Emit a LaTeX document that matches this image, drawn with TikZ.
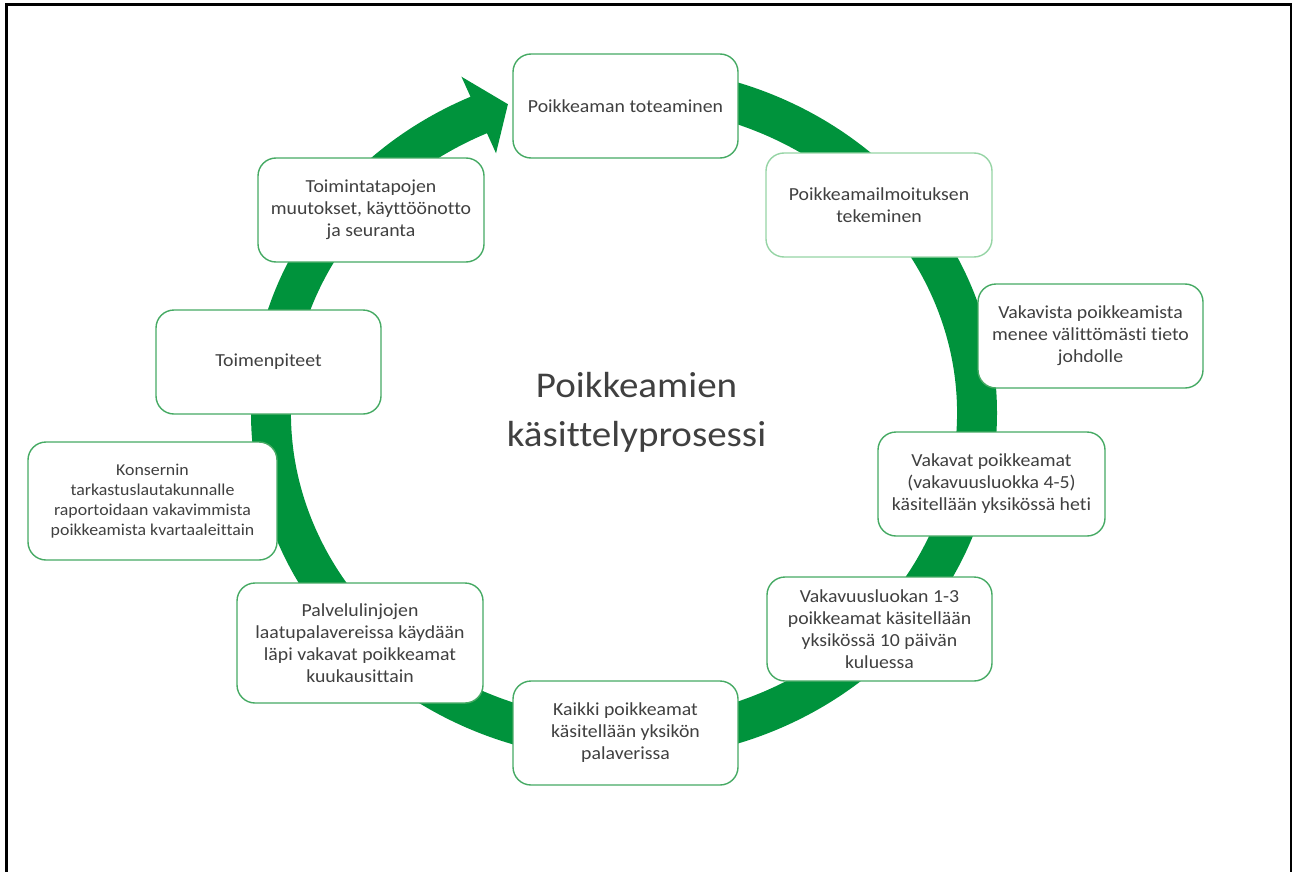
\documentclass[tikz,border=0pt]{standalone}
\usepackage{fontspec}
\setmainfont{Carlito}[FakeStretch=1.075, Ligatures=CommonOff]
\usetikzlibrary{calc}
\definecolor{ringgreen}{RGB}{0,147,60}
\definecolor{boxgreen}{RGB}{70,170,100}
\definecolor{palegreen}{RGB}{150,212,165}
\definecolor{txtgray}{RGB}{64,64,64}
\tikzset{
  phase/.style={draw=boxgreen, line width=1.4, fill=white, rounded corners=18,
    align=center, text=txtgray, inner sep=0, minimum width=225, minimum height=104,
    font=\fontsize{18.4}{22}\selectfont},
  smallphase/.style={phase, font=\fontsize{16.6}{20}\selectfont},
}
\begin{document}
\begin{tikzpicture}[x=1pt,y=-1pt]
      \useasboundingbox (0,0) rectangle (1292,872);
      \draw[line width=3] (6,880) -- (6,5) -- (1291,5) -- (1291,880);
      \coordinate (c) at (624,413);
      \fill[ringgreen] (c) ++(-90:373 and 347)
        arc[start angle=-90, end angle=245.7, x radius=373, y radius=347]
        -- ($(c)+(245.7:395 and 369)$)
        -- ($(c)+(250.8:353 and 327)$)
        -- ($(c)+(245.7:311 and 285)$)
        -- ($(c)+(245.7:333 and 307)$)
        arc[start angle=245.7, end angle=-90, x radius=333, y radius=307]
        -- cycle;
      \draw
        (625.5,106) node[phase] (0) {Poikkeaman toteaminen}
        (879,205) node[phase, draw=palegreen, minimum width=226] (1) {Poikkeamailmoituksen\\tekeminen}
        (1090.5,336) node[phase] (2) {Vakavista poikkeamista\\menee välittömästi tieto\\johdolle}
        (991.5,484) node[phase, minimum width=227] (3) {Vakavat poikkeamat\\(vakavuusluokka 4-5)\\käsitellään yksikössä heti}
        (879.5,629) node[phase] (4) {Vakavuusluokan 1-3\\poikkeamat käsitellään\\yksikössä 10 päivän\\kuluessa}
        (625.5,733) node[phase] (5) {Kaikki poikkeamat\\käsitellään yksikön\\palaverissa}
        (360,643) node[phase, minimum width=246, minimum height=120] (6) {Palvelulinjojen\\laatupalavereissa käydään\\läpi vakavat poikkeamat\\kuukausittain}
        (152.5,501) node[smallphase, minimum width=249, minimum height=118] (7) {Konsernin\\tarkastuslautakunnalle\\raportoidaan vakavimmista\\poikkeamista kvartaaleittain}
        (268.5,362) node[phase] (8) {Toimenpiteet}
        (371,210) node[phase, minimum width=226] (9) {Toimintatapojen\\muutokset, käyttöönotto\\ja seuranta};
      \node[text=txtgray, align=center, font=\fontsize{36.3}{49}\selectfont] (title) at (636.5,412) {Poikkeamien\\käsittelyprosessi};
    \end{tikzpicture}
\end{document}
